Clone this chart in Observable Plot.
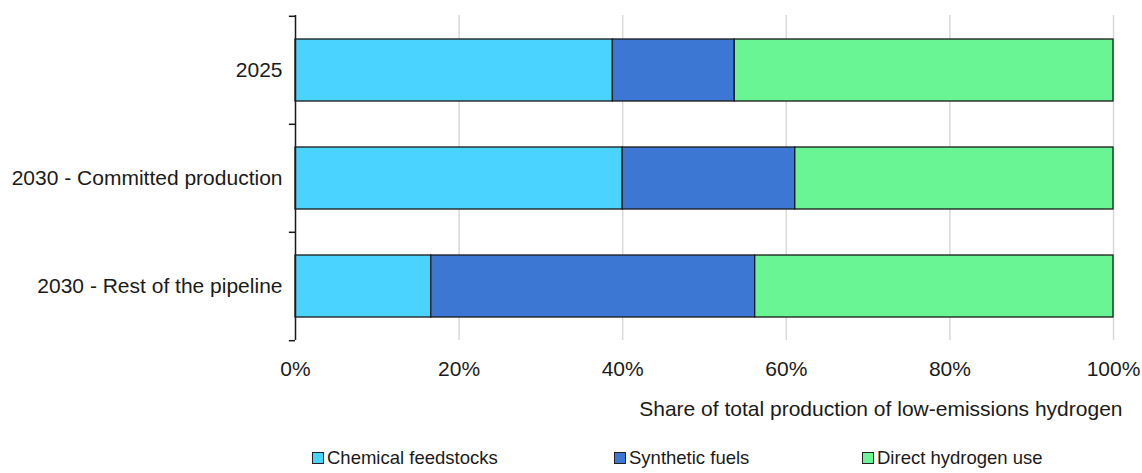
<!DOCTYPE html>
<html>
<head>
<meta charset="utf-8">
<script src="https://cdn.jsdelivr.net/npm/d3@7"></script>
<script src="https://cdn.jsdelivr.net/npm/@observablehq/plot@0.6"></script>
<style>
  body { margin: 0; background: #fff; font-family: "Liberation Sans", Arial, sans-serif; }
  #legend { position: relative; height: 48px; font-size: 18.5px; color: #1a1a1a; }
  .item { position: absolute; top: 22px; display: flex; align-items: center; white-space: nowrap; line-height: 22px; }
  .sw { width: 10px; height: 10px; border: 1px solid #222; margin-right: 3px; }
</style>
</head>
<body>
<div id="chart"></div>
<div id="legend"></div>
<script>
const categories = ["2025", "2030 - Committed production", "2030 - Rest of the pipeline"];
const series = ["Chemical feedstocks", "Synthetic fuels", "Direct hydrogen use"];
const chemical = [38.8, 40.0, 16.6];
const synthetic = [14.9, 21.1, 39.6];
const direct = [46.3, 38.9, 43.8];
const colors = ["#4BD3FF", "#3C78D3", "#6AF595"];
const xTicks = [0, 20, 40, 60, 80, 100];
const gridTicks = [20, 40, 60, 80, 100];
const axisTitle = "Share of total production of low-emissions hydrogen";

const values = [chemical, synthetic, direct];
const data = [];
series.forEach((s, si) => categories.forEach((c, ci) => data.push({category: c, series: s, value: values[si][ci]})));

const W = 1142, H = 425;
const chart = Plot.plot({
  width: W, height: H,
  marginLeft: 295, marginRight: 29, marginTop: 15, marginBottom: 85,
  style: {fontFamily: '"Liberation Sans", Arial, sans-serif', fontSize: "21px", color: "#1a1a1a", background: "#fff"},
  x: {domain: [0, 100]},
  y: {domain: categories, paddingInner: 0.43, paddingOuter: 0.215},
  color: {domain: series, range: colors},
  marks: [
    Plot.ruleX(gridTicks, {stroke: "#d9d9d9", strokeWidth: 1.5}),
    Plot.barX(data, Plot.stackX({x: "value", y: "category", fill: "series", order: series, stroke: "#1a1a1a", strokeWidth: 1.3})),
    Plot.ruleX([0], {stroke: "#1a1a1a", strokeWidth: 1.5}),
    Plot.ruleY(categories, {y: d => d, x1: -0.75, x2: 0, dy: -54.2, stroke: "#1a1a1a", strokeWidth: 1.5}),
    Plot.ruleY([categories[categories.length - 1]], {y: d => d, x1: -0.75, x2: 0, dy: 54.2, stroke: "#1a1a1a", strokeWidth: 1.5}),
    Plot.axisY({tickSize: 0, tickPadding: 13, label: null, fontSize: 21}),
    Plot.axisX(xTicks, {tickSize: 0, tickPadding: 21, tickFormat: d => d + "%", label: null, fontSize: 21}),
    Plot.text([axisTitle], {frameAnchor: "bottom-right", dy: 69, dx: 9, textAnchor: "end", lineAnchor: "middle", fontSize: 21, fill: "#1a1a1a"})
  ]
});
document.getElementById("chart").appendChild(chart);

const legend = document.getElementById("legend");
const legendX = [312, 614, 862];
series.forEach((s, i) => {
  const it = document.createElement("div");
  it.className = "item";
  it.style.left = legendX[i] + "px";
  const sw = document.createElement("span");
  sw.className = "sw";
  sw.style.background = colors[i];
  const t = document.createElement("span");
  t.textContent = s;
  it.appendChild(sw); it.appendChild(t);
  legend.appendChild(it);
});
</script>
</body>
</html>
